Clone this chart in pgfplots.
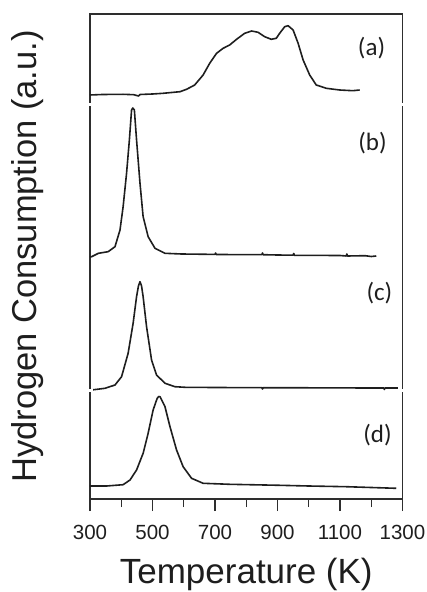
\documentclass[border=0pt]{standalone}
\usepackage{fontspec}
\setmainfont{Liberation Sans}
\newfontfamily\panelfont{Carlito}
\usepackage{pgfplots}
\pgfplotsset{compat=1.18}

\definecolor{ink}{HTML}{1E1E1E}
\definecolor{frame}{HTML}{2E2E2E}
\tikzset{trace/.style={ink, line width=1.6pt, line join=round, mark=none}}

\begin{document}
\begin{tikzpicture}
\useasboundingbox (-90pt,-93pt) rectangle (337pt,499pt);
\begin{axis}[
  at={(0,0)}, anchor=south west,
  scale only axis,
  width=312.5pt, height=485pt,
  xmin=300, xmax=1300, ymin=0, ymax=485,
  axis line style={frame, line width=1.2pt},
  xtick={300,500,...,1300},
  minor xtick={400,600,...,1200},
  ytick=\empty,
  xtick pos=bottom,
  tick align=outside,
  major tick length=12pt,
  minor tick length=8pt,
  every tick/.style={frame, line width=1.2pt},
  /pgf/number format/assume math mode=true,
  /pgf/number format/1000 sep={},
  tick label style={font=\fontsize{20.5}{22}\selectfont, text=ink},
  xticklabel style={anchor=base, yshift=-28pt},
  xlabel={Temperature (K)},
  ylabel={Hydrogen Consumption (a.u.)},
  xlabel style={at={([yshift=-84pt]axis description cs:0.5,0)}, anchor=base,
    font=\fontsize{35}{37}\selectfont, text=ink},
  ylabel style={at={([xshift=-53pt]axis description cs:0,0.5)}, anchor=base,
    font=\fontsize{34.5}{37}\selectfont, text=ink},
  clip=false,
]
% (a)
\addplot[trace] coordinates {
 (300,404) (340,404.5) (406,404.7) (440,404.3) (455,403) (460,404.5) (500,405) (534,405.7)
 (588,407.3) (609,409.7) (635,414) (662,424) (683,435.7) (705,445.7) (726,450.7)
 (747,454) (769,459.7) (795,465.7) (817,468) (838,466.7) (859,462.3) (880,459.7)
 (896,460.7) (907,465.7) (923,472.3) (934,473.3) (950,469) (966,455.7) (982,439)
 (1003,424) (1024,414) (1056,410.7) (1099,409) (1141,408.3) (1163,409)
};
% (b)
\addplot[trace] coordinates {
 (300,242) (305,242.3) (327,245.7) (358,247.3) (380,252.3) (396,269) (406,292.3)
 (417,325.7) (426,359) (433,389) (437,391) (442,389) (449,359) (460,315.7)
 (470,282.3) (486,262.3) (508,250.7) (540,245.7) (593,245) (700,244.6) (702,246)
 (704,244.5) (850,244.3) (852,246) (854,244.3) (900,244) (950,243.8) (952,245.5)
 (954,243.7) (1100,243.5) (1120,243) (1122,245) (1124,243) (1180,243.3)
 (1200,242.5) (1216,243)
};
% (c)
\addplot[trace] coordinates {
 (300,109) (305,109) (348,110.7) (380,114) (401,122.3) (422,145.7) (438,175.7)
 (449,202.3) (455,213) (460,217.3) (465,213) (470,202.3) (481,172.3) (497,139)
 (513,124) (540,115.7) (572,112.3) (604,111.7) (700,111.5) (850,111.3) (852,110)
 (854,111.3) (1000,111.2) (1200,111) (1240,111) (1242,109.5) (1244,111) (1285,111)
};
% (d)
\addplot[trace] coordinates {
 (300,13) (305,13) (353,13) (406,14.3) (428,19) (449,29) (470,45.7) (486,65.7)
 (502,89) (515,100.7) (520,102.5) (524,102.3) (540,92.3) (556,72.3) (577,49)
 (598,32.3) (625,20.7) (662,15.7) (747,14.7) (907,13.7) (1000,13) (1120,12.3)
 (1200,11.5) (1280,10.7)
};
\node[font=\fontsize{25}{27}\panelfont, text=ink] at (axis cs:1201,451) {(a)};
\node[font=\fontsize{25}{27}\panelfont, text=ink] at (axis cs:1204,356) {(b)};
\node[font=\fontsize{25}{27}\panelfont, text=ink] at (axis cs:1226,206) {(c)};
\node[font=\fontsize{25}{27}\panelfont, text=ink] at (axis cs:1220,64) {(d)};
\end{axis}
% small breaks in the side frame between stacked traces
\fill[white] (-3pt,392.5pt) rectangle (3pt,395.5pt);
\fill[white] (309.5pt,392.5pt) rectangle (315.5pt,395.5pt);
\fill[white] (-3pt,106.5pt) rectangle (3pt,109.5pt);
\fill[white] (309.5pt,106.5pt) rectangle (315.5pt,109.5pt);
\end{tikzpicture}
\end{document}
